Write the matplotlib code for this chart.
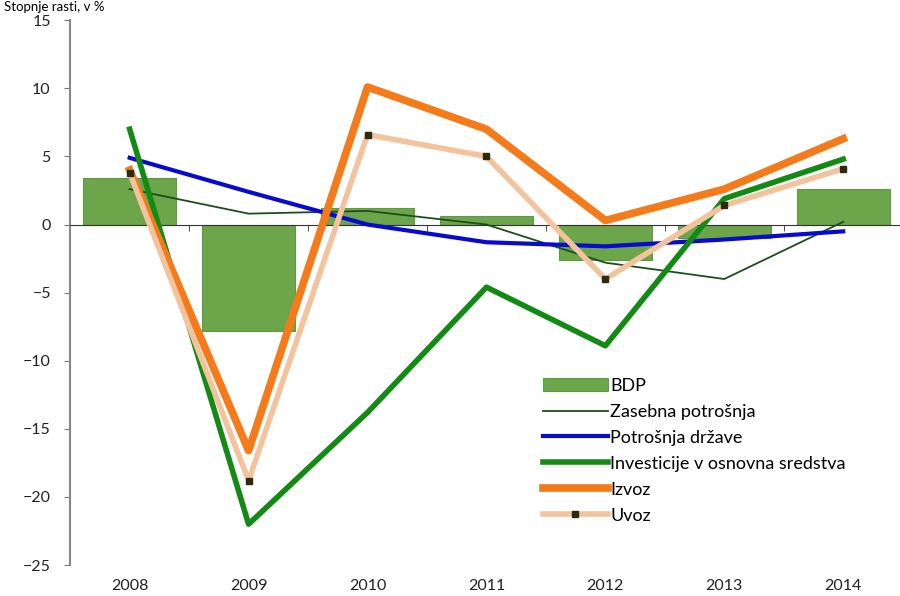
import matplotlib.pyplot as plt
import numpy as np

plt.rcParams['font.family'] = ['Lato', 'DejaVu Sans']

years = ["2008", "2009", "2010", "2011", "2012", "2013", "2014"]
bdp = [3.4, -7.8, 1.2, 0.6, -2.6, -1.0, 2.6]
zasebna = [2.6, 0.8, 1.0, 0.0, -2.8, -4.0, 0.2]
drzava = [4.9, 2.4, 0.0, -1.3, -1.6, -1.1, -0.5]
investicije = [7.0, -22.0, -13.8, -4.6, -8.9, 1.9, 4.8]
izvoz = [4.0, -16.6, 10.1, 7.0, 0.3, 2.6, 6.3]
uvoz = [3.8, -18.8, 6.6, 5.0, -4.0, 1.4, 4.1]

x = np.arange(len(years))

fig = plt.figure(figsize=(9, 5.96), dpi=100)
ax = fig.add_axes([0.078, 0.052, 0.925, 0.914])

b = ax.bar(x, bdp, width=0.78, color='#6DA64A', edgecolor='#5E9A3E', linewidth=0.8,
           label='BDP', zorder=2)
l1, = ax.plot(x, zasebna, color='#1E4D1E', lw=1.3, label='Zasebna potrošnja', zorder=3)
l2, = ax.plot(x, drzava, color='#0A0ACF', lw=3, label='Potrošnja države', zorder=4)
l3, = ax.plot(x, investicije, color='#138A13', lw=4, label='Investicije v osnovna sredstva', zorder=5)
l4, = ax.plot(x, izvoz, color='#F47A1A', lw=5.5, label='Izvoz', zorder=6)
l5, = ax.plot(x, uvoz, color='#F3C39E', lw=4, marker='s', markersize=4,
              markerfacecolor='#2E2A10', markeredgecolor='#2E2A10', label='Uvoz', zorder=7)

ax.set_xlim(-0.5, len(years) - 0.5)
ax.set_ylim(-25, 15)
ax.set_yticks(range(-25, 16, 5))
ax.tick_params(axis='y', labelsize=11.5, length=4, color='#777777', pad=10, labelcolor='#222222')

ax.spines['top'].set_visible(False)
ax.spines['right'].set_visible(False)
ax.spines['left'].set_color('#888888')
ax.spines['left'].set_linewidth(1.5)
ax.spines['bottom'].set_position(('data', 0))
ax.spines['bottom'].set_color('#333333')
ax.set_xticks(x)
ax.set_xticklabels([])
ax.tick_params(axis='x', which='major', length=0)
ax.set_xticks(x[:-1] + 0.5, minor=True)
ax.tick_params(axis='x', which='minor', length=4, direction='out', color='#333333')

for xi, yr in zip(x, years):
    ax.text(xi, -0.025, yr, transform=ax.get_xaxis_transform(), ha='center', va='top',
            fontsize=11.5, color='#222222')

ax.legend(handles=[b, l1, l2, l3, l4, l5], loc='upper left',
          bbox_to_anchor=(0.595, 0.378), bbox_transform=fig.transFigure,
          frameon=False, fontsize=13, handlelength=3.6, handletextpad=0.15,
          labelspacing=0.55, borderaxespad=0, numpoints=1)

fig.text(0.005, 0.999, "Stopnje rasti, v %", fontsize=9.5, ha='left', va='top')

fig.savefig("out.png", dpi=100)
